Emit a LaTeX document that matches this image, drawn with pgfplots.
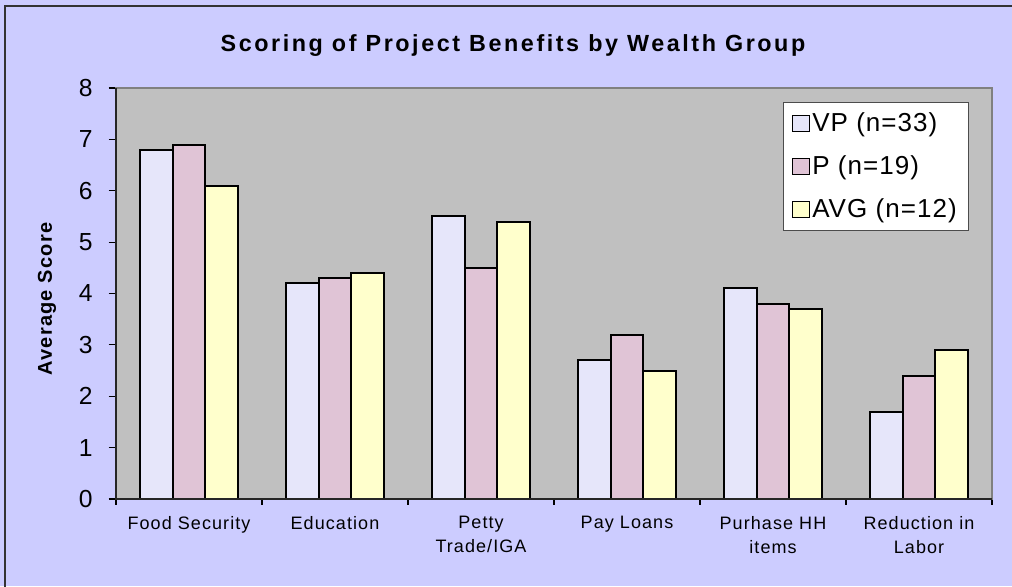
\documentclass[border=0pt]{standalone}
\usepackage{pgfplots}
\pgfplotsset{compat=1.18}
\usepackage{fontspec}
\setmainfont{Liberation Sans}
\definecolor{bgl}{HTML}{CCCCFF}
\definecolor{plotgray}{HTML}{C0C0C0}
\definecolor{vpc}{HTML}{E6E6FA}
\definecolor{pc}{HTML}{E0C4D6}
\definecolor{avgc}{HTML}{FFFFCC}
\begin{document}
\begin{tikzpicture}[x=1pt,y=1pt]
\useasboundingbox (0,0) rectangle (759,-439.5);
\fill[bgl] (0,0) rectangle (759,-439.5);
\draw[line width=1pt,black!80] (3.75,-4.5) rectangle (770,-450);
\node[font=\bfseries\fontsize{17.5}{20}\selectfont\addfontfeatures{LetterSpace=11}] at (384.75,-34.5) {Scoring of Project Benefits by Wealth Group};
\node[font=\bfseries\fontsize{15}{17}\selectfont\addfontfeatures{LetterSpace=6}, rotate=90] at (35.25,-224.25) {Average Score};
\begin{axis}[name=ax, at={(87pt,-66pt)}, anchor=north west, scale only axis,
  width=657pt, height=308.25pt,
  ybar=0pt, bar width=24.4pt,
  ymin=0, ymax=8, xmin=-0.5, xmax=5.5,
  tick pos=left,
  xtick={0,...,5},
  xticklabels={Food Security,Education,Petty\\Trade/IGA,Pay Loans,Purhase HH\\items,Reduction in\\Labor},
  xticklabel style={align=center, font=\fontsize{13.5}{18}\selectfont\addfontfeatures{LetterSpace=6}, yshift=-4pt},
  major x tick style={draw=none},
  minor xtick={-0.5,0.5,1.5,2.5,3.5,4.5,5.5},
  minor x tick style={black, line width=0.8pt},
  ytick={0,...,8},
  yticklabel style={font=\fontsize{18.5}{20}\selectfont, xshift=-8.5pt},
  /pgf/number format/assume math mode=true,
  y tick style={black, line width=0.8pt},
  tick align=outside, major tick length=5.5pt, minor tick length=4.5pt,
  axis background/.style={fill=plotgray},
  axis line style={draw=gray, line width=1.4pt},
  legend style={at={(0.9737,0.966)}, anchor=north east, draw=gray!60!black, fill=white,
    font=\fontsize{19.5}{22}\selectfont\addfontfeatures{LetterSpace=4}, row sep=12.5pt, inner xsep=7pt, inner ysep=6pt,
    /tikz/every even column/.style={column sep=3pt}},
  legend cell align=left,
  legend image code/.code={\draw[#1,line width=0.6pt] (0pt,-6pt) rectangle (12.5pt,6pt);},
]
\addplot[fill=vpc, draw=black, line width=1.5pt] coordinates {(0,6.8) (1,4.2) (2,5.5) (3,2.7) (4,4.1) (5,1.7)};
\addplot[fill=pc, draw=black, line width=1.5pt] coordinates {(0,6.9) (1,4.3) (2,4.5) (3,3.2) (4,3.8) (5,2.4)};
\addplot[fill=avgc, draw=black, line width=1.5pt] coordinates {(0,6.1) (1,4.4) (2,5.4) (3,2.5) (4,3.7) (5,2.9)};
\legend{VP (n=33),P (n=19),AVG (n=12)}
\end{axis}
\draw[black!85, line width=1pt] (ax.north west) -- (ax.south west) -- (ax.south east);
\end{tikzpicture}
\end{document}
